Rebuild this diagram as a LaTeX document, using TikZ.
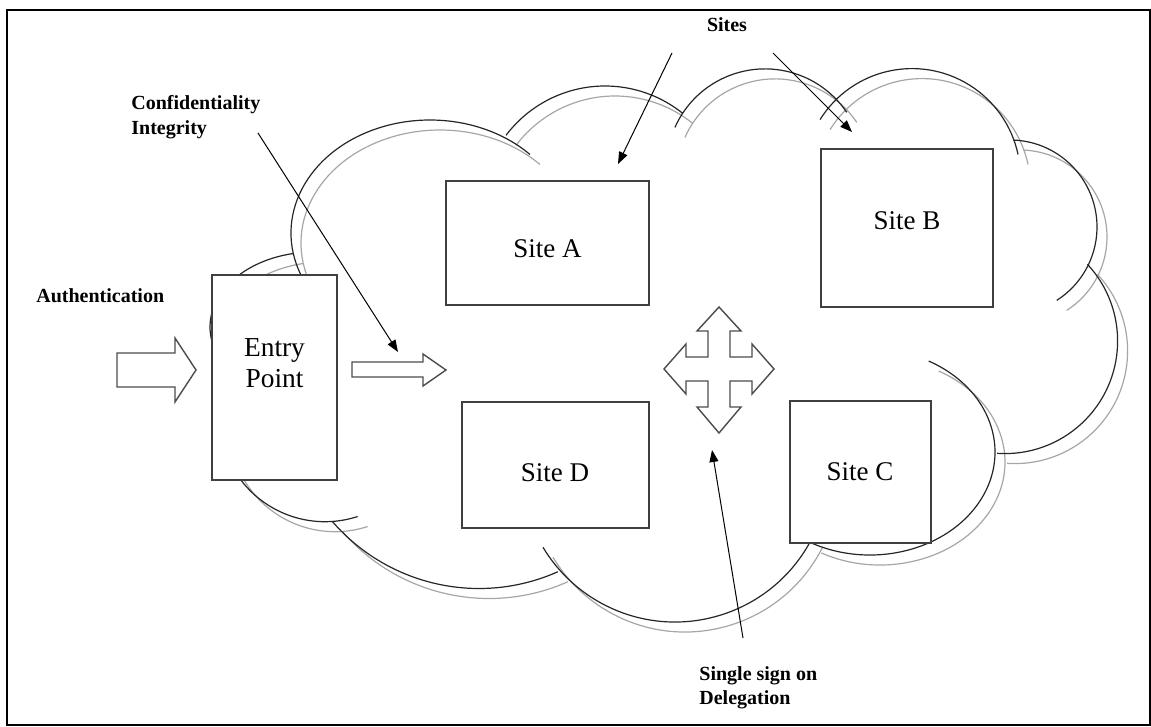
\documentclass[tikz,border=0pt]{standalone}
\usepackage{fontspec}
\setmainfont{Liberation Serif}
\usetikzlibrary{arrows.meta,fit}

\tikzset{
  % lobes of the cloud outline (one unit = one pixel, y pointing down)
  cloudlobes/.style={insert path={
    (430,233) ++(158:139 and 113) arc[start angle=158,end angle=316,x radius=139,y radius=113]
    (605,210) ++(217:124) arc[start angle=217,end angle=309,radius=124]
    (765,167.5) ++(204:98.6) arc[start angle=204,end angle=326,radius=98.6]
    (912,177) ++(212:108.4) arc[start angle=212,end angle=348,radius=108.4]
    (1010,227) ++(272:87) arc[start angle=272,end angle=417.5,radius=87]
    (1005,341) ++(317:112.6) arc[start angle=317,end angle=454,radius=112.6]
    (870,452) ++(298:125 and 103) arc[start angle=298,end angle=478,x radius=125,y radius=103]
    (675,468) ++(27:154) arc[start angle=27,end angle=149,radius=154]
    (479,394.5) ++(66:194) arc[start angle=66,end angle=139,radius=194]
    (325,416) ++(72:105.7) arc[start angle=72,end angle=150,radius=105.7]
    (314,327) ++(155:104 and 75) arc[start angle=155,end angle=258.4,x radius=104,y radius=75]
  }},
  shadowline/.style={draw=black!35, line width=0.6pt},
  outline/.style={draw=black!85, line width=0.6pt},
  box/.style={draw=black!75, line width=0.8pt, fill=white, inner sep=0pt},
  boxtext/.style={font=\fontsize{13.5}{16}\selectfont, anchor=base, inner sep=0pt},
  tag/.style={font=\bfseries\fontsize{10}{12}\selectfont, anchor=base west, inner sep=0pt},
  blockarrow/.style={draw=black!70, line width=0.7pt, fill=white, line join=miter},
  pointer/.style={draw=black, line width=0.5pt, -{Triangle[length=6pt,width=4.5pt]}},
}

\begin{document}
\begin{tikzpicture}[x=0.5pt,y=-0.5pt]
\useasboundingbox (0,0) rectangle (1151,727);

% cloud: grey shadow first, then the dark outline
\path[shadowline, shift={(10,10)}, cloudlobes];
\path[outline, cloudlobes];

% boxes
\node[box, fit={(212,275) (337,480)}] (entry) {};
\node[box, fit={(446,181) (649,305)}] (siteA) {};
\node[box, fit={(821,149) (993,307)}] (siteB) {};
\node[box, fit={(790,401) (931,543)}] (siteC) {};
\node[box, fit={(462,402) (649,528)}] (siteD) {};

\node[boxtext, font=\fontsize{13.7}{15}\selectfont] (entry-l1) at (274.5,357) {Entry};
\node[boxtext, font=\fontsize{13.7}{15}\selectfont] (entry-l2) at (274.5,387) {Point};
\node[boxtext] (siteA-l) at (547.5,257) {Site A};
\node[boxtext] (siteB-l) at (907,230) {Site B};
\node[boxtext] (siteC-l) at (860,480) {Site C};
\node[boxtext] (siteD-l) at (555,481) {Site D};

% block arrows
\draw[blockarrow] (117,353) -- (175,353) -- (175,338) -- (196,370) -- (175,402) -- (175,387) -- (117,387) -- cycle;
\draw[blockarrow] (352,362) -- (423,362) -- (423,354) -- (446,370) -- (423,386) -- (423,377) -- (352,377) -- cycle;
\draw[blockarrow] (719,307) -- (741,331) -- (730,331) -- (730,357) -- (752,357) -- (752,344)
  -- (774,369) -- (752,394) -- (752,381) -- (730,381) -- (730,407) -- (741,407)
  -- (719,433) -- (697,407) -- (708,407) -- (708,381) -- (686,381) -- (686,394)
  -- (664,369) -- (686,344) -- (686,357) -- (708,357) -- (708,331) -- (697,331) -- cycle;

% labels
\node[tag] (auth) at (36,302) {Authentication};
\node[tag] (conf) at (131,110) {Confidentiality};
\node[tag] (integ) at (131,135) {Integrity};
\node[tag, anchor=base] (sites) at (727,32) {Sites};
\node[tag] (sso) at (699,680) {Single sign on};
\node[tag] (deleg) at (699,704) {Delegation};

% pointers
\coordinate (ci-from) at (258,133);
\coordinate (ci-to) at (398,352);
\coordinate (sa-from) at (672,53);
\coordinate (sa-to) at (618,164);
\coordinate (sb-from) at (773,53);
\coordinate (sb-to) at (852,132);
\coordinate (sso-from) at (743,638);
\coordinate (sso-to) at (712,450);
\draw[pointer] (ci-from) -- (ci-to);
\draw[pointer] (sa-from) -- (sa-to);
\draw[pointer] (sb-from) -- (sb-to);
\draw[pointer] (sso-from) -- (sso-to);

% frame
\draw[line width=1pt] (7,10) rectangle (1150,725);
\end{tikzpicture}
\end{document}
